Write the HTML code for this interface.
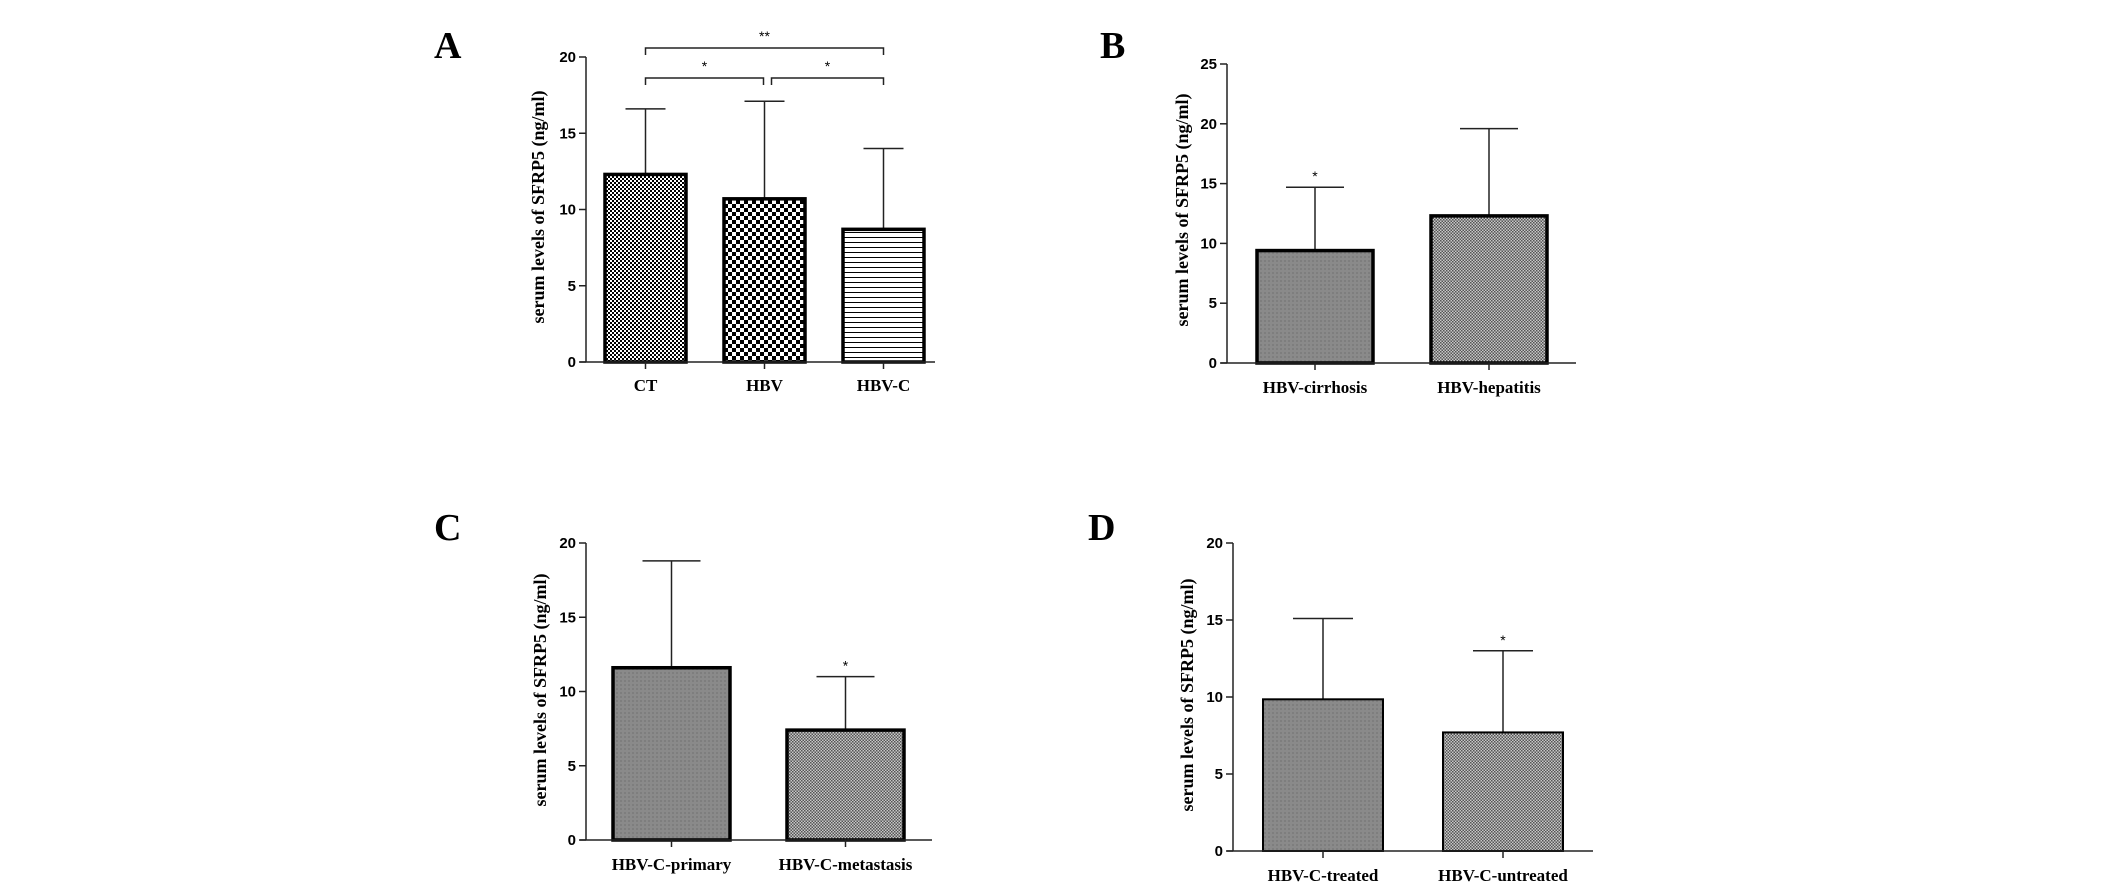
<!DOCTYPE html>
<html><head><meta charset="utf-8"><style>
html,body{margin:0;padding:0;background:#fff;}
svg{display:block;}
.tick{font-family:"Liberation Sans",sans-serif;font-weight:bold;font-size:15px;}
.cat{font-family:"Liberation Serif",serif;font-weight:bold;font-size:17px;}
.ttl{font-family:"Liberation Serif",serif;font-weight:bold;font-size:18px;}
.pl{font-family:"Liberation Serif",serif;font-weight:bold;font-size:38px;}
.st{font-family:"Liberation Sans",sans-serif;font-size:14px;}
</style></head><body>
<svg id="fig" width="2126" height="883" viewBox="0 0 2126 883" xmlns="http://www.w3.org/2000/svg">
<defs>
<pattern id="pFine" width="4" height="4" patternUnits="userSpaceOnUse"><rect width="4" height="4" fill="#fff"/><rect width="2" height="2" fill="#000"/><rect x="2" y="2" width="2" height="2" fill="#000"/></pattern>
<pattern id="pCoarse" width="8" height="8" patternUnits="userSpaceOnUse"><rect width="8" height="8" fill="#fff"/><rect width="4" height="4" fill="#000"/><rect x="4" y="4" width="4" height="4" fill="#000"/></pattern>
<pattern id="pLines" width="6" height="5" patternUnits="userSpaceOnUse"><rect width="6" height="5" fill="#fff"/><rect y="2" width="6" height="1" fill="#000"/></pattern>
<pattern id="pGray" width="4" height="4" patternUnits="userSpaceOnUse"><rect width="4" height="4" fill="#8a8a8a"/><rect width="2" height="2" fill="#7e7e7e"/></pattern>
<pattern id="pLight" width="3" height="3" patternUnits="userSpaceOnUse"><rect width="3" height="3" fill="#c8c8c8"/><rect width="1.5" height="1.5" fill="#555"/><rect x="1.5" y="1.5" width="1.5" height="1.5" fill="#555"/></pattern>
</defs>
</svg>
<script>
// Panel A
const catsA = ["CT", "HBV", "HBV-C"];
const meanA = [12.3, 10.7, 8.7];
const errA = [16.6, 17.1, 14.0];
const ticksA = [0, 5, 10, 15, 20];
// Panel B
const catsB = ["HBV-cirrhosis", "HBV-hepatitis"];
const meanB = [9.4, 12.3];
const errB = [14.7, 19.6];
const ticksB = [0, 5, 10, 15, 20, 25];
// Panel C
const catsC = ["HBV-C-primary", "HBV-C-metastasis"];
const meanC = [11.6, 7.4];
const errC = [18.8, 11.0];
const ticksC = [0, 5, 10, 15, 20];
// Panel D
const catsD = ["HBV-C-treated", "HBV-C-untreated"];
const meanD = [9.85, 7.7];
const errD = [15.1, 13.0];
const ticksD = [0, 5, 10, 15, 20];

const NS = "http://www.w3.org/2000/svg";
const fig = document.getElementById("fig");
function mk(tag, attrs, parent, text) {
  const e = document.createElementNS(NS, tag);
  for (const k in attrs) e.setAttribute(k, attrs[k]);
  if (text !== undefined) e.textContent = text;
  (parent || fig).appendChild(e);
  return e;
}

const panels = [
  {id:"a", letter:"A", lx:434, ly:58, cats:catsA, mean:meanA, err:errA, ticks:ticksA,
   ax:586, x1:935, y0:362, yTop:57, ymax:20, bx:[605,724,843], bw:81, cap:20, sw:3.5,
   fills:["url(#pFine)","url(#pCoarse)","url(#pLines)"], stars:[null,null,null], tx:538, ty:207, cy:385},
  {id:"b", letter:"B", lx:1100, ly:58, cats:catsB, mean:meanB, err:errB, ticks:ticksB,
   ax:1227, x1:1576, y0:363, yTop:64, ymax:25, bx:[1257,1431], bw:116, cap:29, sw:3.5,
   fills:["url(#pGray)","url(#pLight)"], stars:["*",null], tx:1182, ty:210, cy:387},
  {id:"c", letter:"C", lx:434, ly:540, cats:catsC, mean:meanC, err:errC, ticks:ticksC,
   ax:586, x1:932, y0:840, yTop:543, ymax:20, bx:[613,787], bw:117, cap:29, sw:3.5,
   fills:["url(#pGray)","url(#pLight)"], stars:[null,"*"], tx:540, ty:690, cy:864},
  {id:"d", letter:"D", lx:1088, ly:540, cats:catsD, mean:meanD, err:errD, ticks:ticksD,
   ax:1233, x1:1593, y0:851, yTop:543, ymax:20, bx:[1263,1443], bw:120, cap:30, sw:2,
   fills:["url(#pGray)","url(#pLight)"], stars:[null,"*"], tx:1187, ty:695, cy:875}
];

panels.forEach(p => {
  const g = mk("g", {});
  
  
  const y = v => p.y0 - (v / p.ymax) * (p.y0 - p.yTop);
  const lab = mk("text", {x:p.lx, y:p.ly, class:"pl"}, g, p.letter);
  
  
  p.mean.forEach((m, i) => {
    const cx = p.bx[i] + p.bw / 2;
    const eb = mk("g", {}, g);
    
    
    mk("line", {x1:cx, x2:cx, y1:y(m), y2:y(p.err[i]), stroke:"#222", "stroke-width":1.5}, eb);
    mk("line", {x1:cx - p.cap, x2:cx + p.cap, y1:y(p.err[i]), y2:y(p.err[i]), stroke:"#222", "stroke-width":1.5}, eb);
    const r = mk("rect", {x:p.bx[i], y:y(m), width:p.bw, height:p.y0 - y(m), fill:p.fills[i], stroke:"#000", "stroke-width":p.sw}, g);
    
    
    if (p.stars[i]) {
      const s = mk("text", {x:cx, y:y(p.err[i]) - 6, "text-anchor":"middle", class:"st"}, g, p.stars[i]);
      
      
    }
    mk("line", {x1:cx, x2:cx, y1:p.y0, y2:p.y0 + 7, stroke:"#222", "stroke-width":1.5}, g);
    const c = mk("text", {x:cx, y:p.cy + 6, "text-anchor":"middle", class:"cat"}, g, p.cats[i]);
    
    
  });
  const ya = mk("line", {x1:p.ax, x2:p.ax, y1:p.yTop, y2:p.y0, stroke:"#222", "stroke-width":1.5}, g);
  
  
  const xa = mk("line", {x1:p.ax - 6, x2:p.x1, y1:p.y0, y2:p.y0, stroke:"#222", "stroke-width":1.5}, g);
  
  
  p.ticks.forEach(t => {
    mk("line", {x1:p.ax - 7, x2:p.ax, y1:y(t), y2:y(t), stroke:"#222", "stroke-width":1.5}, g);
    const tl = mk("text", {x:p.ax - 10, y:y(t) + 5, "text-anchor":"end", class:"tick"}, g, t);
    
    
  });
  const tt = mk("text", {x:0, y:0, "text-anchor":"middle", class:"ttl", transform:"translate(" + (p.tx + 6) + "," + p.ty + ") rotate(-90)"}, g, "serum levels of SFRP5 (ng/ml)");
  
  
  if (p.id === "a") {
    const cxs = p.bx.map(b => b + p.bw / 2);
    const br = [[0, 2, 48, "**"], [0, 1, 78, "*"], [1, 2, 78, "*"]];
    br.forEach(b => {
      const x1 = cxs[b[0]] + (b[0] === 1 ? 7 : 0), x2 = cxs[b[1]] - (b[1] === 1 ? 1 : 0);
      const bg = mk("g", {}, g);
      
      
      mk("path", {d:"M" + x1 + " " + (b[2] + 7) + "V" + b[2] + "H" + x2 + "V" + (b[2] + 7), fill:"none", stroke:"#222", "stroke-width":1.5}, bg);
      mk("text", {x:(x1 + x2) / 2, y:b[2] - 7, "text-anchor":"middle", class:"st"}, bg, b[3]);
    });
  }
});
</script>
</body></html>
